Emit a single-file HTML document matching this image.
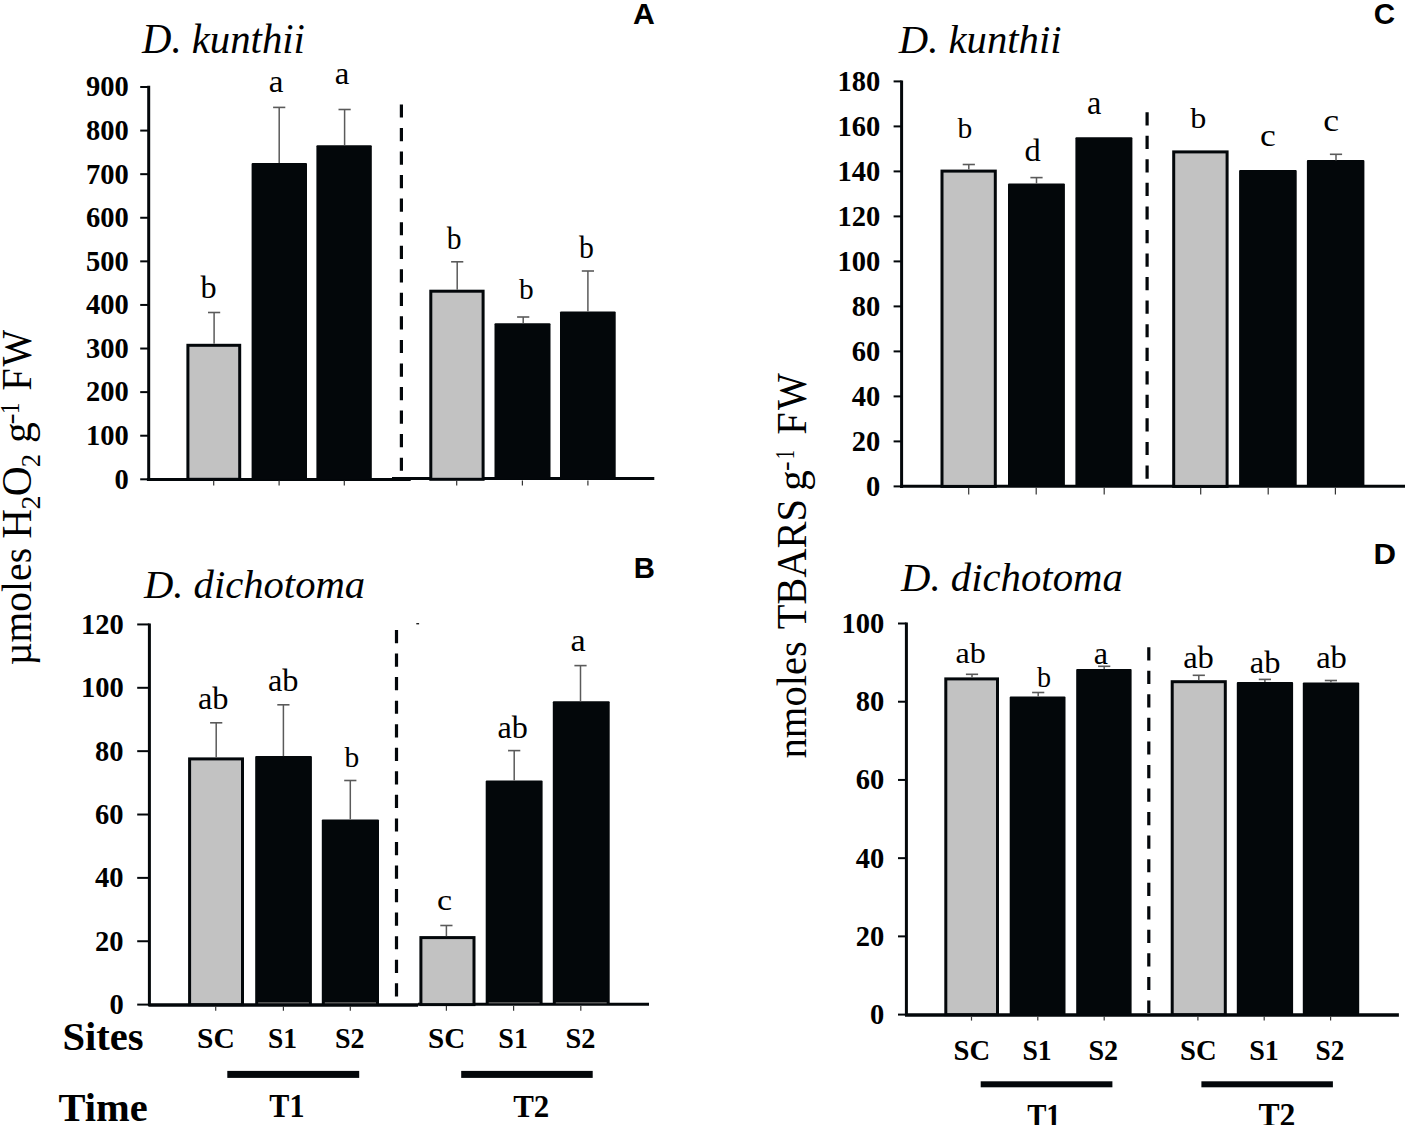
<!DOCTYPE html>
<html><head><meta charset="utf-8"><style>
html,body{margin:0;padding:0;background:#fff;}
svg{display:block;}
</style></head><body>
<svg width="1405" height="1125" viewBox="0 0 1405 1125">
<rect width="1405" height="1125" fill="#fff"/>
<line x1="148.70" y1="85.80" x2="148.70" y2="480.80" stroke="#03070a" stroke-width="3" />
<line x1="140.20" y1="479.30" x2="148.70" y2="479.30" stroke="#03070a" stroke-width="2" />
<line x1="140.20" y1="435.71" x2="148.70" y2="435.71" stroke="#03070a" stroke-width="2" />
<line x1="140.20" y1="392.12" x2="148.70" y2="392.12" stroke="#03070a" stroke-width="2" />
<line x1="140.20" y1="348.53" x2="148.70" y2="348.53" stroke="#03070a" stroke-width="2" />
<line x1="140.20" y1="304.94" x2="148.70" y2="304.94" stroke="#03070a" stroke-width="2" />
<line x1="140.20" y1="261.35" x2="148.70" y2="261.35" stroke="#03070a" stroke-width="2" />
<line x1="140.20" y1="217.76" x2="148.70" y2="217.76" stroke="#03070a" stroke-width="2" />
<line x1="140.20" y1="174.17" x2="148.70" y2="174.17" stroke="#03070a" stroke-width="2" />
<line x1="140.20" y1="130.58" x2="148.70" y2="130.58" stroke="#03070a" stroke-width="2" />
<line x1="140.20" y1="86.99" x2="148.70" y2="86.99" stroke="#03070a" stroke-width="2" />
<line x1="146.90" y1="479.50" x2="410.70" y2="479.50" stroke="#03070a" stroke-width="3" />
<line x1="392.00" y1="478.60" x2="654.30" y2="478.60" stroke="#03070a" stroke-width="3" />
<rect x="187.90" y="345.30" width="51.80" height="134.00" fill="#c2c2c2" stroke="#03070a" stroke-width="3.0"/>
<rect x="251.60" y="162.90" width="55.40" height="316.40" fill="#03070a" rx="1"/>
<rect x="316.40" y="145.20" width="55.40" height="334.10" fill="#03070a" rx="1"/>
<rect x="430.80" y="291.20" width="52.30" height="188.10" fill="#c2c2c2" stroke="#03070a" stroke-width="3.0"/>
<rect x="494.50" y="323.30" width="56.00" height="156.00" fill="#03070a" rx="1"/>
<rect x="560.00" y="311.60" width="55.70" height="167.70" fill="#03070a" rx="1"/>
<line x1="213.70" y1="480.50" x2="213.70" y2="485.50" stroke="#333" stroke-width="1.2" />
<line x1="279.10" y1="480.50" x2="279.10" y2="485.50" stroke="#333" stroke-width="1.2" />
<line x1="344.30" y1="480.50" x2="344.30" y2="485.50" stroke="#333" stroke-width="1.2" />
<line x1="456.70" y1="480.50" x2="456.70" y2="485.50" stroke="#333" stroke-width="1.2" />
<line x1="522.40" y1="480.50" x2="522.40" y2="485.50" stroke="#333" stroke-width="1.2" />
<line x1="587.90" y1="480.50" x2="587.90" y2="485.50" stroke="#333" stroke-width="1.2" />
<line x1="214.10" y1="312.50" x2="214.10" y2="343.80" stroke="#5a5a5a" stroke-width="1.5" />
<line x1="208.00" y1="312.50" x2="220.20" y2="312.50" stroke="#5a5a5a" stroke-width="1.6" />
<line x1="279.20" y1="107.40" x2="279.20" y2="162.90" stroke="#5a5a5a" stroke-width="1.5" />
<line x1="273.10" y1="107.40" x2="285.30" y2="107.40" stroke="#5a5a5a" stroke-width="1.6" />
<line x1="344.60" y1="109.50" x2="344.60" y2="145.20" stroke="#5a5a5a" stroke-width="1.5" />
<line x1="338.50" y1="109.50" x2="350.70" y2="109.50" stroke="#5a5a5a" stroke-width="1.6" />
<line x1="457.20" y1="261.80" x2="457.20" y2="289.70" stroke="#5a5a5a" stroke-width="1.5" />
<line x1="451.10" y1="261.80" x2="463.30" y2="261.80" stroke="#5a5a5a" stroke-width="1.6" />
<line x1="523.20" y1="317.00" x2="523.20" y2="323.30" stroke="#5a5a5a" stroke-width="1.5" />
<line x1="517.10" y1="317.00" x2="529.30" y2="317.00" stroke="#5a5a5a" stroke-width="1.6" />
<line x1="587.90" y1="271.00" x2="587.90" y2="311.60" stroke="#5a5a5a" stroke-width="1.5" />
<line x1="581.80" y1="271.00" x2="594.00" y2="271.00" stroke="#5a5a5a" stroke-width="1.6" />
<text x="0" y="0" transform="translate(200.60,297.70) scale(1.0136,1)" font-family="Liberation Serif" font-weight="normal" font-style="normal" font-size="31.82" fill="#000">b</text>
<text x="0" y="0" transform="translate(268.83,91.70) scale(1.0650,1)" font-family="Liberation Serif" font-weight="normal" font-style="normal" font-size="31.11" fill="#000">a</text>
<text x="0" y="0" transform="translate(334.84,83.50) scale(1.0569,1)" font-family="Liberation Serif" font-weight="normal" font-style="normal" font-size="31.11" fill="#000">a</text>
<text x="0" y="0" transform="translate(446.70,249.10) scale(0.9514,1)" font-family="Liberation Serif" font-weight="normal" font-style="normal" font-size="31.11" fill="#000">b</text>
<text x="0" y="0" transform="translate(519.00,298.70) scale(0.9855,1)" font-family="Liberation Serif" font-weight="normal" font-style="normal" font-size="29.83" fill="#000">b</text>
<text x="0" y="0" transform="translate(579.00,258.30) scale(0.9718,1)" font-family="Liberation Serif" font-weight="normal" font-style="normal" font-size="30.68" fill="#000">b</text>
<line x1="401.40" y1="104.40" x2="401.40" y2="472.00" stroke="#03070a" stroke-width="3.2" stroke-dasharray="13.2 10.35" stroke-dashoffset="0"/>
<line x1="149.40" y1="623.50" x2="149.40" y2="1006.10" stroke="#03070a" stroke-width="3" />
<line x1="137.20" y1="1004.60" x2="149.40" y2="1004.60" stroke="#03070a" stroke-width="2" />
<line x1="137.20" y1="941.24" x2="149.40" y2="941.24" stroke="#03070a" stroke-width="2" />
<line x1="137.20" y1="877.88" x2="149.40" y2="877.88" stroke="#03070a" stroke-width="2" />
<line x1="137.20" y1="814.52" x2="149.40" y2="814.52" stroke="#03070a" stroke-width="2" />
<line x1="137.20" y1="751.16" x2="149.40" y2="751.16" stroke="#03070a" stroke-width="2" />
<line x1="137.20" y1="687.80" x2="149.40" y2="687.80" stroke="#03070a" stroke-width="2" />
<line x1="137.20" y1="624.44" x2="149.40" y2="624.44" stroke="#03070a" stroke-width="2" />
<line x1="148.40" y1="1005.00" x2="418.10" y2="1005.00" stroke="#03070a" stroke-width="3.5" />
<line x1="418.00" y1="1004.20" x2="649.00" y2="1004.20" stroke="#03070a" stroke-width="3" />
<rect x="189.60" y="758.90" width="52.90" height="245.70" fill="#c2c2c2" stroke="#03070a" stroke-width="3.0"/>
<rect x="255.20" y="756.10" width="56.70" height="248.50" fill="#03070a" rx="1"/>
<rect x="321.80" y="819.40" width="57.20" height="185.20" fill="#03070a" rx="1"/>
<rect x="420.90" y="937.60" width="53.10" height="67.00" fill="#c2c2c2" stroke="#03070a" stroke-width="3.0"/>
<rect x="485.70" y="780.40" width="56.90" height="224.20" fill="#03070a" rx="1"/>
<rect x="552.80" y="701.30" width="56.90" height="303.30" fill="#03070a" rx="1"/>
<line x1="215.70" y1="1006.00" x2="215.70" y2="1010.70" stroke="#333" stroke-width="1.2" />
<line x1="283.40" y1="1006.00" x2="283.40" y2="1010.70" stroke="#333" stroke-width="1.2" />
<line x1="350.30" y1="1006.00" x2="350.30" y2="1010.70" stroke="#333" stroke-width="1.2" />
<line x1="446.40" y1="1006.00" x2="446.40" y2="1010.70" stroke="#333" stroke-width="1.2" />
<line x1="513.60" y1="1006.00" x2="513.60" y2="1010.70" stroke="#333" stroke-width="1.2" />
<line x1="580.80" y1="1006.00" x2="580.80" y2="1010.70" stroke="#333" stroke-width="1.2" />
<line x1="216.20" y1="722.80" x2="216.20" y2="757.40" stroke="#5a5a5a" stroke-width="1.5" />
<line x1="210.10" y1="722.80" x2="222.30" y2="722.80" stroke="#5a5a5a" stroke-width="1.6" />
<line x1="283.40" y1="704.80" x2="283.40" y2="756.10" stroke="#5a5a5a" stroke-width="1.5" />
<line x1="277.30" y1="704.80" x2="289.50" y2="704.80" stroke="#5a5a5a" stroke-width="1.6" />
<line x1="350.30" y1="780.50" x2="350.30" y2="819.40" stroke="#5a5a5a" stroke-width="1.5" />
<line x1="344.20" y1="780.50" x2="356.40" y2="780.50" stroke="#5a5a5a" stroke-width="1.6" />
<line x1="446.40" y1="925.50" x2="446.40" y2="936.10" stroke="#5a5a5a" stroke-width="1.5" />
<line x1="440.30" y1="925.50" x2="452.50" y2="925.50" stroke="#5a5a5a" stroke-width="1.6" />
<line x1="514.20" y1="750.60" x2="514.20" y2="780.40" stroke="#5a5a5a" stroke-width="1.5" />
<line x1="508.10" y1="750.60" x2="520.30" y2="750.60" stroke="#5a5a5a" stroke-width="1.6" />
<line x1="580.50" y1="665.60" x2="580.50" y2="701.30" stroke="#5a5a5a" stroke-width="1.5" />
<line x1="574.40" y1="665.60" x2="586.60" y2="665.60" stroke="#5a5a5a" stroke-width="1.6" />
<text x="0" y="0" transform="translate(197.90,708.60) scale(0.9965,1)" font-family="Liberation Serif" font-weight="normal" font-style="normal" font-size="32.53" fill="#000">ab</text>
<text x="0" y="0" transform="translate(267.88,691.10) scale(1.0181,1)" font-family="Liberation Serif" font-weight="normal" font-style="normal" font-size="31.82" fill="#000">ab</text>
<text x="0" y="0" transform="translate(344.40,767.40) scale(1.0382,1)" font-family="Liberation Serif" font-weight="normal" font-style="normal" font-size="28.41" fill="#000">b</text>
<text x="0" y="0" transform="translate(437.02,909.70) scale(1.1651,1)" font-family="Liberation Serif" font-weight="normal" font-style="normal" font-size="29.11" fill="#000">c</text>
<text x="0" y="0" transform="translate(497.59,737.60) scale(1.0072,1)" font-family="Liberation Serif" font-weight="normal" font-style="normal" font-size="31.96" fill="#000">ab</text>
<text x="0" y="0" transform="translate(570.42,650.70) scale(1.0714,1)" font-family="Liberation Serif" font-weight="normal" font-style="normal" font-size="31.94" fill="#000">a</text>
<line x1="396.50" y1="630.00" x2="396.50" y2="997.00" stroke="#03070a" stroke-width="3.2" stroke-dasharray="13.2 10.35" stroke-dashoffset="0"/>
<line x1="901.60" y1="80.50" x2="901.60" y2="487.90" stroke="#03070a" stroke-width="3" />
<line x1="893.60" y1="486.40" x2="901.60" y2="486.40" stroke="#03070a" stroke-width="2" />
<line x1="893.60" y1="441.40" x2="901.60" y2="441.40" stroke="#03070a" stroke-width="2" />
<line x1="893.60" y1="396.40" x2="901.60" y2="396.40" stroke="#03070a" stroke-width="2" />
<line x1="893.60" y1="351.40" x2="901.60" y2="351.40" stroke="#03070a" stroke-width="2" />
<line x1="893.60" y1="306.40" x2="901.60" y2="306.40" stroke="#03070a" stroke-width="2" />
<line x1="893.60" y1="261.40" x2="901.60" y2="261.40" stroke="#03070a" stroke-width="2" />
<line x1="893.60" y1="216.40" x2="901.60" y2="216.40" stroke="#03070a" stroke-width="2" />
<line x1="893.60" y1="171.40" x2="901.60" y2="171.40" stroke="#03070a" stroke-width="2" />
<line x1="893.60" y1="126.40" x2="901.60" y2="126.40" stroke="#03070a" stroke-width="2" />
<line x1="893.60" y1="81.40" x2="901.60" y2="81.40" stroke="#03070a" stroke-width="2" />
<line x1="900.00" y1="486.20" x2="1405.00" y2="486.20" stroke="#03070a" stroke-width="3" />
<rect x="942.00" y="171.10" width="53.30" height="315.30" fill="#c2c2c2" stroke="#03070a" stroke-width="3.0"/>
<rect x="1008.00" y="183.50" width="56.90" height="302.90" fill="#03070a" rx="1"/>
<rect x="1075.40" y="137.30" width="57.00" height="349.10" fill="#03070a" rx="1"/>
<rect x="1173.70" y="151.90" width="53.40" height="334.50" fill="#c2c2c2" stroke="#03070a" stroke-width="3.0"/>
<rect x="1239.10" y="170.00" width="57.60" height="316.40" fill="#03070a" rx="1"/>
<rect x="1306.90" y="160.10" width="57.50" height="326.30" fill="#03070a" rx="1"/>
<line x1="968.70" y1="487.80" x2="968.70" y2="494.60" stroke="#333" stroke-width="1.2" />
<line x1="1036.20" y1="487.80" x2="1036.20" y2="494.60" stroke="#333" stroke-width="1.2" />
<line x1="1104.20" y1="487.80" x2="1104.20" y2="494.60" stroke="#333" stroke-width="1.2" />
<line x1="1200.70" y1="487.80" x2="1200.70" y2="494.60" stroke="#333" stroke-width="1.2" />
<line x1="1268.20" y1="487.80" x2="1268.20" y2="494.60" stroke="#333" stroke-width="1.2" />
<line x1="1335.40" y1="487.80" x2="1335.40" y2="494.60" stroke="#333" stroke-width="1.2" />
<line x1="968.80" y1="164.50" x2="968.80" y2="169.60" stroke="#5a5a5a" stroke-width="1.5" />
<line x1="962.70" y1="164.50" x2="974.90" y2="164.50" stroke="#5a5a5a" stroke-width="1.6" />
<line x1="1036.50" y1="177.60" x2="1036.50" y2="183.50" stroke="#5a5a5a" stroke-width="1.5" />
<line x1="1030.40" y1="177.60" x2="1042.60" y2="177.60" stroke="#5a5a5a" stroke-width="1.6" />
<line x1="1336.00" y1="154.30" x2="1336.00" y2="160.60" stroke="#5a5a5a" stroke-width="1.5" />
<line x1="1329.90" y1="154.30" x2="1342.10" y2="154.30" stroke="#5a5a5a" stroke-width="1.6" />
<text x="0" y="0" transform="translate(957.60,138.10) scale(1.0000,1)" font-family="Liberation Serif" font-weight="normal" font-style="normal" font-size="29.55" fill="#000">b</text>
<text x="0" y="0" transform="translate(1024.44,160.50) scale(1.0576,1)" font-family="Liberation Serif" font-weight="normal" font-style="normal" font-size="30.68" fill="#000">d</text>
<text x="0" y="0" transform="translate(1087.12,113.90) scale(0.9845,1)" font-family="Liberation Serif" font-weight="normal" font-style="normal" font-size="32.78" fill="#000">a</text>
<text x="0" y="0" transform="translate(1190.20,128.10) scale(1.0571,1)" font-family="Liberation Serif" font-weight="normal" font-style="normal" font-size="30.40" fill="#000">b</text>
<text x="0" y="0" transform="translate(1260.01,145.70) scale(1.1565,1)" font-family="Liberation Serif" font-weight="normal" font-style="normal" font-size="30.77" fill="#000">c</text>
<text x="0" y="0" transform="translate(1323.28,130.90) scale(1.0984,1)" font-family="Liberation Serif" font-weight="normal" font-style="normal" font-size="32.43" fill="#000">c</text>
<line x1="1147.10" y1="112.20" x2="1147.10" y2="479.00" stroke="#03070a" stroke-width="3.2" stroke-dasharray="13.2 10.35" stroke-dashoffset="0"/>
<line x1="906.40" y1="622.50" x2="906.40" y2="1016.10" stroke="#03070a" stroke-width="3" />
<line x1="898.00" y1="1014.60" x2="906.40" y2="1014.60" stroke="#03070a" stroke-width="2" />
<line x1="898.00" y1="936.38" x2="906.40" y2="936.38" stroke="#03070a" stroke-width="2" />
<line x1="898.00" y1="858.16" x2="906.40" y2="858.16" stroke="#03070a" stroke-width="2" />
<line x1="898.00" y1="779.94" x2="906.40" y2="779.94" stroke="#03070a" stroke-width="2" />
<line x1="898.00" y1="701.72" x2="906.40" y2="701.72" stroke="#03070a" stroke-width="2" />
<line x1="898.00" y1="623.50" x2="906.40" y2="623.50" stroke="#03070a" stroke-width="2" />
<line x1="905.00" y1="1015.00" x2="1398.90" y2="1015.00" stroke="#03070a" stroke-width="3.4" />
<rect x="945.80" y="678.90" width="51.70" height="335.70" fill="#c2c2c2" stroke="#03070a" stroke-width="3.0"/>
<rect x="1009.70" y="696.40" width="55.80" height="318.20" fill="#03070a" rx="1"/>
<rect x="1076.20" y="669.00" width="55.40" height="345.60" fill="#03070a" rx="1"/>
<rect x="1172.20" y="681.70" width="53.10" height="332.90" fill="#c2c2c2" stroke="#03070a" stroke-width="3.0"/>
<rect x="1236.80" y="682.00" width="56.30" height="332.60" fill="#03070a" rx="1"/>
<rect x="1302.80" y="682.40" width="56.40" height="332.20" fill="#03070a" rx="1"/>
<line x1="971.50" y1="1016.60" x2="971.50" y2="1020.60" stroke="#333" stroke-width="1.2" />
<line x1="1037.80" y1="1016.60" x2="1037.80" y2="1020.60" stroke="#333" stroke-width="1.2" />
<line x1="1104.20" y1="1016.60" x2="1104.20" y2="1020.60" stroke="#333" stroke-width="1.2" />
<line x1="1197.90" y1="1016.60" x2="1197.90" y2="1020.60" stroke="#333" stroke-width="1.2" />
<line x1="1264.20" y1="1016.60" x2="1264.20" y2="1020.60" stroke="#333" stroke-width="1.2" />
<line x1="1330.60" y1="1016.60" x2="1330.60" y2="1020.60" stroke="#333" stroke-width="1.2" />
<line x1="972.00" y1="674.30" x2="972.00" y2="677.40" stroke="#5a5a5a" stroke-width="1.5" />
<line x1="965.90" y1="674.30" x2="978.10" y2="674.30" stroke="#5a5a5a" stroke-width="1.6" />
<line x1="1038.20" y1="692.50" x2="1038.20" y2="696.40" stroke="#5a5a5a" stroke-width="1.5" />
<line x1="1032.10" y1="692.50" x2="1044.30" y2="692.50" stroke="#5a5a5a" stroke-width="1.6" />
<line x1="1104.20" y1="666.30" x2="1104.20" y2="669.00" stroke="#5a5a5a" stroke-width="1.5" />
<line x1="1098.10" y1="666.30" x2="1110.30" y2="666.30" stroke="#5a5a5a" stroke-width="1.6" />
<line x1="1198.80" y1="675.30" x2="1198.80" y2="680.20" stroke="#5a5a5a" stroke-width="1.5" />
<line x1="1192.70" y1="675.30" x2="1204.90" y2="675.30" stroke="#5a5a5a" stroke-width="1.6" />
<line x1="1264.90" y1="679.40" x2="1264.90" y2="682.00" stroke="#5a5a5a" stroke-width="1.5" />
<line x1="1258.80" y1="679.40" x2="1271.00" y2="679.40" stroke="#5a5a5a" stroke-width="1.6" />
<line x1="1330.90" y1="680.50" x2="1330.90" y2="682.40" stroke="#5a5a5a" stroke-width="1.5" />
<line x1="1324.80" y1="680.50" x2="1337.00" y2="680.50" stroke="#5a5a5a" stroke-width="1.6" />
<text x="0" y="0" transform="translate(955.42,663.00) scale(1.0687,1)" font-family="Liberation Serif" font-weight="normal" font-style="normal" font-size="30.11" fill="#000">ab</text>
<text x="0" y="0" transform="translate(1037.00,687.40) scale(0.9420,1)" font-family="Liberation Serif" font-weight="normal" font-style="normal" font-size="29.83" fill="#000">b</text>
<text x="0" y="0" transform="translate(1093.85,663.50) scale(1.0410,1)" font-family="Liberation Serif" font-weight="normal" font-style="normal" font-size="30.90" fill="#000">a</text>
<text x="0" y="0" transform="translate(1183.14,667.60) scale(1.0560,1)" font-family="Liberation Serif" font-weight="normal" font-style="normal" font-size="30.82" fill="#000">ab</text>
<text x="0" y="0" transform="translate(1249.75,672.90) scale(1.0443,1)" font-family="Liberation Serif" font-weight="normal" font-style="normal" font-size="31.11" fill="#000">ab</text>
<text x="0" y="0" transform="translate(1316.14,667.60) scale(1.0560,1)" font-family="Liberation Serif" font-weight="normal" font-style="normal" font-size="30.82" fill="#000">ab</text>
<line x1="1148.80" y1="647.20" x2="1148.80" y2="1013.00" stroke="#03070a" stroke-width="3.2" stroke-dasharray="13.2 10.35" stroke-dashoffset="0"/>
<line x1="258.20" y1="1002.80" x2="308.90" y2="1002.80" stroke="#555" stroke-width="1.6" />
<line x1="324.80" y1="1002.80" x2="376.00" y2="1002.80" stroke="#555" stroke-width="1.6" />
<line x1="488.70" y1="1002.80" x2="539.60" y2="1002.80" stroke="#555" stroke-width="1.6" />
<line x1="555.80" y1="1002.80" x2="606.70" y2="1002.80" stroke="#555" stroke-width="1.6" />
<rect x="416.3" y="623" width="2.8" height="1.4" fill="#222"/>
<text x="114.40" y="488.65" font-family="Liberation Serif" font-weight="bold" font-size="28.5" fill="#000">0</text>
<text x="85.90" y="445.06" font-family="Liberation Serif" font-weight="bold" font-size="28.5" fill="#000">100</text>
<text x="85.90" y="401.47" font-family="Liberation Serif" font-weight="bold" font-size="28.5" fill="#000">200</text>
<text x="85.90" y="357.88" font-family="Liberation Serif" font-weight="bold" font-size="28.5" fill="#000">300</text>
<text x="85.90" y="314.29" font-family="Liberation Serif" font-weight="bold" font-size="28.5" fill="#000">400</text>
<text x="85.90" y="270.70" font-family="Liberation Serif" font-weight="bold" font-size="28.5" fill="#000">500</text>
<text x="85.90" y="227.11" font-family="Liberation Serif" font-weight="bold" font-size="28.5" fill="#000">600</text>
<text x="85.90" y="183.52" font-family="Liberation Serif" font-weight="bold" font-size="28.5" fill="#000">700</text>
<text x="85.90" y="139.93" font-family="Liberation Serif" font-weight="bold" font-size="28.5" fill="#000">800</text>
<text x="85.90" y="96.34" font-family="Liberation Serif" font-weight="bold" font-size="28.5" fill="#000">900</text>
<text x="109.40" y="1013.95" font-family="Liberation Serif" font-weight="bold" font-size="28.5" fill="#000">0</text>
<text x="95.10" y="950.59" font-family="Liberation Serif" font-weight="bold" font-size="28.5" fill="#000">20</text>
<text x="95.10" y="887.23" font-family="Liberation Serif" font-weight="bold" font-size="28.5" fill="#000">40</text>
<text x="95.10" y="823.87" font-family="Liberation Serif" font-weight="bold" font-size="28.5" fill="#000">60</text>
<text x="95.10" y="760.51" font-family="Liberation Serif" font-weight="bold" font-size="28.5" fill="#000">80</text>
<text x="80.90" y="697.15" font-family="Liberation Serif" font-weight="bold" font-size="28.5" fill="#000">100</text>
<text x="80.90" y="633.79" font-family="Liberation Serif" font-weight="bold" font-size="28.5" fill="#000">120</text>
<text x="866.00" y="495.75" font-family="Liberation Serif" font-weight="bold" font-size="28.5" fill="#000">0</text>
<text x="851.70" y="450.75" font-family="Liberation Serif" font-weight="bold" font-size="28.5" fill="#000">20</text>
<text x="851.70" y="405.75" font-family="Liberation Serif" font-weight="bold" font-size="28.5" fill="#000">40</text>
<text x="851.70" y="360.75" font-family="Liberation Serif" font-weight="bold" font-size="28.5" fill="#000">60</text>
<text x="851.70" y="315.75" font-family="Liberation Serif" font-weight="bold" font-size="28.5" fill="#000">80</text>
<text x="837.50" y="270.75" font-family="Liberation Serif" font-weight="bold" font-size="28.5" fill="#000">100</text>
<text x="837.50" y="225.75" font-family="Liberation Serif" font-weight="bold" font-size="28.5" fill="#000">120</text>
<text x="837.50" y="180.75" font-family="Liberation Serif" font-weight="bold" font-size="28.5" fill="#000">140</text>
<text x="837.50" y="135.75" font-family="Liberation Serif" font-weight="bold" font-size="28.5" fill="#000">160</text>
<text x="837.50" y="90.75" font-family="Liberation Serif" font-weight="bold" font-size="28.5" fill="#000">180</text>
<text x="870.10" y="1023.95" font-family="Liberation Serif" font-weight="bold" font-size="28.5" fill="#000">0</text>
<text x="855.80" y="945.73" font-family="Liberation Serif" font-weight="bold" font-size="28.5" fill="#000">20</text>
<text x="855.80" y="867.51" font-family="Liberation Serif" font-weight="bold" font-size="28.5" fill="#000">40</text>
<text x="855.80" y="789.29" font-family="Liberation Serif" font-weight="bold" font-size="28.5" fill="#000">60</text>
<text x="855.80" y="711.07" font-family="Liberation Serif" font-weight="bold" font-size="28.5" fill="#000">80</text>
<text x="841.60" y="632.85" font-family="Liberation Serif" font-weight="bold" font-size="28.5" fill="#000">100</text>
<text x="0" y="0" transform="translate(141.99,53.20) scale(0.9848,1)" font-family="Liberation Serif" font-weight="normal" font-style="italic" font-size="41.38" fill="#000">D. kunthii</text>
<text x="0" y="0" transform="translate(898.80,52.50) scale(0.9939,1)" font-family="Liberation Serif" font-weight="normal" font-style="italic" font-size="40.96" fill="#000">D. kunthii</text>
<text x="0" y="0" transform="translate(143.90,597.85) scale(1.0101,1)" font-family="Liberation Serif" font-weight="normal" font-style="italic" font-size="40.25" fill="#000">D. dichotoma</text>
<text x="0" y="0" transform="translate(901.10,591.10) scale(0.9946,1)" font-family="Liberation Serif" font-weight="normal" font-style="italic" font-size="40.96" fill="#000">D. dichotoma</text>
<text x="0" y="0" transform="translate(632.90,24.10) scale(0.9951,1)" font-family="Liberation Sans" font-weight="bold" font-style="normal" font-size="30.38" fill="#000">A</text>
<text x="0" y="0" transform="translate(633.65,578.00) scale(0.9728,1)" font-family="Liberation Sans" font-weight="bold" font-style="normal" font-size="30.09" fill="#000">B</text>
<text x="0" y="0" transform="translate(1373.73,24.40) scale(0.9749,1)" font-family="Liberation Sans" font-weight="bold" font-style="normal" font-size="30.37" fill="#000">C</text>
<text x="0" y="0" transform="translate(1373.54,563.80) scale(1.0324,1)" font-family="Liberation Sans" font-weight="bold" font-style="normal" font-size="30.23" fill="#000">D</text>
<text x="0" y="0" transform="translate(62.49,1050.35) scale(1.0052,1)" font-family="Liberation Serif" font-weight="bold" font-style="normal" font-size="40.34" fill="#000">Sites</text>
<text x="0" y="0" transform="translate(58.58,1121.30) scale(1.0282,1)" font-family="Liberation Serif" font-weight="bold" font-style="normal" font-size="39.40" fill="#000">Time</text>
<text x="0" y="0" transform="translate(197.04,1048.20) scale(1.0399,1)" font-family="Liberation Serif" font-weight="bold" font-style="normal" font-size="28.42" fill="#000">SC</text>
<text x="0" y="0" transform="translate(268.05,1048.20) scale(0.9667,1)" font-family="Liberation Serif" font-weight="bold" font-style="normal" font-size="28.42" fill="#000">S1</text>
<text x="0" y="0" transform="translate(335.02,1048.20) scale(0.9853,1)" font-family="Liberation Serif" font-weight="bold" font-style="normal" font-size="28.42" fill="#000">S2</text>
<text x="0" y="0" transform="translate(428.06,1048.20) scale(1.0245,1)" font-family="Liberation Serif" font-weight="bold" font-style="normal" font-size="28.42" fill="#000">SC</text>
<text x="0" y="0" transform="translate(498.32,1048.20) scale(0.9852,1)" font-family="Liberation Serif" font-weight="bold" font-style="normal" font-size="28.42" fill="#000">S1</text>
<text x="0" y="0" transform="translate(565.41,1048.20) scale(0.9963,1)" font-family="Liberation Serif" font-weight="bold" font-style="normal" font-size="28.42" fill="#000">S2</text>
<text x="0" y="0" transform="translate(953.56,1059.50) scale(0.9620,1)" font-family="Liberation Serif" font-weight="bold" font-style="normal" font-size="29.76" fill="#000">SC</text>
<text x="0" y="0" transform="translate(1022.41,1059.50) scale(0.9296,1)" font-family="Liberation Serif" font-weight="bold" font-style="normal" font-size="29.76" fill="#000">S1</text>
<text x="0" y="0" transform="translate(1088.49,1059.50) scale(0.9441,1)" font-family="Liberation Serif" font-weight="bold" font-style="normal" font-size="29.76" fill="#000">S2</text>
<text x="0" y="0" transform="translate(1180.06,1059.50) scale(0.9620,1)" font-family="Liberation Serif" font-weight="bold" font-style="normal" font-size="29.76" fill="#000">SC</text>
<text x="0" y="0" transform="translate(1249.19,1059.50) scale(0.9437,1)" font-family="Liberation Serif" font-weight="bold" font-style="normal" font-size="29.76" fill="#000">S1</text>
<text x="0" y="0" transform="translate(1315.53,1059.50) scale(0.9161,1)" font-family="Liberation Serif" font-weight="bold" font-style="normal" font-size="29.76" fill="#000">S2</text>
<rect x="227.30" y="1070.90" width="131.90" height="7.00" fill="#03070a"/>
<rect x="461.20" y="1070.90" width="131.50" height="7.00" fill="#03070a"/>
<rect x="980.70" y="1081.30" width="131.70" height="6.00" fill="#03070a"/>
<rect x="1201.40" y="1081.30" width="131.50" height="6.00" fill="#03070a"/>
<text x="0" y="0" transform="translate(269.36,1117.00) scale(0.8874,1)" font-family="Liberation Serif" font-weight="bold" font-style="normal" font-size="33.94" fill="#000">T1</text>
<text x="0" y="0" transform="translate(513.13,1117.30) scale(0.9474,1)" font-family="Liberation Serif" font-weight="bold" font-style="normal" font-size="32.63" fill="#000">T2</text>
<text x="0" y="0" transform="translate(1027.18,1126.70) scale(0.8472,1)" font-family="Liberation Serif" font-weight="bold" font-style="normal" font-size="33.94" fill="#000">T1</text>
<text x="0" y="0" transform="translate(1258.43,1125.60) scale(0.9358,1)" font-family="Liberation Serif" font-weight="bold" font-style="normal" font-size="33.84" fill="#000">T2</text>
<text x="0" y="0" transform="translate(30.50,665.21) rotate(-90) scale(0.9355,1)" font-family="Liberation Serif" font-weight="normal" font-style="normal" font-size="42.30" fill="#000">µmoles</text>
<text x="0" y="0" transform="translate(30.50,538.67) rotate(-90) scale(0.9715,1)" font-family="Liberation Serif" font-weight="normal" font-style="normal" font-size="42.30" fill="#000">H</text>
<text x="0" y="0" transform="translate(40.40,509.57) rotate(-90) scale(1.0566,1)" font-family="Liberation Serif" font-weight="normal" font-style="normal" font-size="26.50" fill="#000">2</text>
<text x="0" y="0" transform="translate(30.50,496.27) rotate(-90) scale(0.9852,1)" font-family="Liberation Serif" font-weight="normal" font-style="normal" font-size="42.30" fill="#000">O</text>
<text x="0" y="0" transform="translate(40.40,467.20) rotate(-90) scale(1.0000,1)" font-family="Liberation Serif" font-weight="normal" font-style="normal" font-size="26.50" fill="#000">2</text>
<text x="0" y="0" transform="translate(30.50,443.06) rotate(-90) scale(0.9784,1)" font-family="Liberation Serif" font-weight="normal" font-style="normal" font-size="42.30" fill="#000">g</text>
<text x="0" y="0" transform="translate(18.70,424.46) rotate(-90) scale(1.2609,1)" font-family="Liberation Serif" font-weight="normal" font-style="normal" font-size="26.50" fill="#000">-</text>
<text x="0" y="0" transform="translate(18.70,413.96) rotate(-90) scale(0.8511,1)" font-family="Liberation Serif" font-weight="normal" font-style="normal" font-size="26.50" fill="#000">1</text>
<text x="0" y="0" transform="translate(30.50,390.85) rotate(-90) scale(0.9567,1)" font-family="Liberation Serif" font-weight="normal" font-style="normal" font-size="42.30" fill="#000">F</text>
<text x="0" y="0" transform="translate(30.50,366.60) rotate(-90) scale(0.9196,1)" font-family="Liberation Serif" font-weight="normal" font-style="normal" font-size="42.30" fill="#000">W</text>
<text x="0" y="0" transform="translate(806.40,758.46) rotate(-90) scale(0.9599,1)" font-family="Liberation Serif" font-weight="normal" font-style="normal" font-size="42.30" fill="#000">nmoles</text>
<text x="0" y="0" transform="translate(806.40,629.37) rotate(-90) scale(0.9571,1)" font-family="Liberation Serif" font-weight="normal" font-style="normal" font-size="42.30" fill="#000">TBARS</text>
<text x="0" y="0" transform="translate(806.40,490.74) rotate(-90) scale(0.9676,1)" font-family="Liberation Serif" font-weight="normal" font-style="normal" font-size="42.30" fill="#000">g</text>
<text x="0" y="0" transform="translate(794.00,470.89) rotate(-90) scale(1.0870,1)" font-family="Liberation Serif" font-weight="normal" font-style="normal" font-size="26.50" fill="#000">-</text>
<text x="0" y="0" transform="translate(794.00,459.04) rotate(-90) scale(0.6702,1)" font-family="Liberation Serif" font-weight="normal" font-style="normal" font-size="26.50" fill="#000">1</text>
<text x="0" y="0" transform="translate(806.40,434.74) rotate(-90) scale(0.9519,1)" font-family="Liberation Serif" font-weight="normal" font-style="normal" font-size="42.30" fill="#000">F</text>
<text x="0" y="0" transform="translate(806.40,410.10) rotate(-90) scale(0.9246,1)" font-family="Liberation Serif" font-weight="normal" font-style="normal" font-size="42.30" fill="#000">W</text>
</svg>
</body></html>
